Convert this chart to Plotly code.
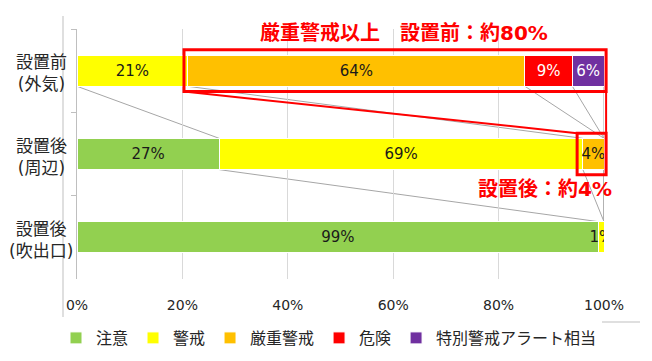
import plotly.graph_objects as go

# ---- data ----
categories = ["設置前(外気)", "設置後(周辺)", "設置後(吹出口)"]
category_labels = ["設置前<br>(外気)", "設置後<br>(周辺)", "設置後<br>(吹出口)"]
series_names = ["注意", "警戒", "厳重警戒", "危険", "特別警戒アラート相当"]
chui = [0, 27, 99]
keikai = [21, 69, 1]
genju = [64, 4, 0]
kiken = [9, 0, 0]
tokubetsu = [6, 0, 0]
x_ticks = [0, 20, 40, 60, 80, 100]
x_tick_labels = ["0%", "20%", "40%", "60%", "80%", "100%"]
callout_top = "厳重警戒以上　設置前：約80%"
callout_bottom = "設置後：約4%"

series_values = [chui, keikai, genju, kiken, tokubetsu]
colors = ["#92D050", "#FFFF00", "#FFC000", "#FF0000", "#7030A0"]
text_colors = ["#1a1a1a", "#1a1a1a", "#1a1a1a", "#FFFFFF", "#FFFFFF"]

FONT = "DejaVu Sans, Noto Sans CJK JP, sans-serif"
BAR_GAP = 0.625
HW = (1 - BAR_GAP) / 2  # half bar thickness in category units

fig = go.Figure()
for name, vals, col, tcol in zip(series_names, series_values, colors, text_colors):
    fig.add_trace(go.Bar(
        y=categories,
        x=[v if v > 0 else None for v in vals],
        name=name,
        orientation="h",
        marker=dict(color=col, line=dict(color="white", width=1)),
        text=[f"{v}%" if v > 0 else "" for v in vals],
        textposition="inside",
        insidetextanchor="middle",
        textangle=0,
        textfont=dict(size=15, color=tcol, family=FONT),
        hoverinfo="skip",
    ))

# cumulative ends per series per category
cum = []
running = [0] * len(categories)
for vals in series_values:
    running = [r + v for r, v in zip(running, vals)]
    cum.append(list(running))

shapes = []
# series lines (gray connectors)
for s in range(len(series_values)):
    for i in range(len(categories) - 1):
        shapes.append(dict(
            type="line", xref="x", yref="y",
            x0=cum[s][i], y0=i + HW, x1=cum[s][i + 1], y1=i + 1 - HW,
            line=dict(color="#a6a6a6", width=1), layer="below",
        ))


def ydom(pos):
    return (len(categories) - 0.5 - pos) / len(categories)


PAD = 0.25
big_x0 = (cum[1][0] - 0.7) / 100
small_x0 = (cum[1][1] - 1.1) / 100
right_x = 1.004
red = "#FF0000"
shapes += [
    dict(type="rect", xref="x domain", yref="y domain",
         x0=big_x0, x1=right_x, y0=ydom(0 - PAD), y1=ydom(0 + PAD),
         line=dict(color=red, width=3)),
    dict(type="rect", xref="x domain", yref="y domain",
         x0=small_x0, x1=right_x, y0=ydom(1 - PAD), y1=ydom(1 + PAD),
         line=dict(color=red, width=3)),
    dict(type="line", xref="x domain", yref="y domain",
         x0=big_x0, y0=ydom(0 + PAD), x1=small_x0, y1=ydom(1 - PAD),
         line=dict(color=red, width=2)),
    dict(type="line", xref="x domain", yref="y domain",
         x0=right_x, y0=ydom(0 + PAD), x1=right_x, y1=ydom(1 - PAD),
         line=dict(color=red, width=2)),
    # outer frame fragments
    dict(type="line", xref="paper", yref="paper",
         x0=(63 - 77) / 527, x1=(63 - 77) / 527, y0=(279 - 16) / 250, y1=(279 - 317) / 250,
         line=dict(color="#bfbfbf", width=1)),
    dict(type="line", xref="paper", yref="paper",
         x0=(602 - 77) / 527, x1=(640 - 77) / 527, y0=(279 - 322) / 250, y1=(279 - 322) / 250,
         line=dict(color="#bfbfbf", width=1)),
]

annotations = []
for i, lab in enumerate(category_labels):
    annotations.append(dict(
        xref="paper", yref="y", x=(41 - 77) / 527, y=i + 0.03,
        text=lab, showarrow=False, xanchor="center", yanchor="middle", align="center",
        font=dict(size=17, color="#262626", family=FONT),
    ))
annotations.append(dict(
    xref="paper", yref="paper", x=(404 - 77) / 527, y=(279 - 33) / 250,
    text=callout_top, showarrow=False, xanchor="center", yanchor="middle",
    font=dict(size=20, color=red, family=FONT, weight="bold"),
))
annotations.append(dict(
    xref="paper", yref="paper", x=(545 - 77) / 527, y=(279 - 189) / 250,
    text=callout_bottom, showarrow=False, xanchor="center", yanchor="middle",
    font=dict(size=20, color=red, family=FONT, weight="bold"),
))

fig.update_layout(
    width=652, height=361, autosize=False,
    barmode="stack", bargap=BAR_GAP,
    plot_bgcolor="white", paper_bgcolor="white",
    margin=dict(l=77, r=48, t=29, b=82, autoexpand=False),
    font=dict(family=FONT, color="#262626"),
    shapes=shapes, annotations=annotations,
    xaxis=dict(
        range=[0, 100], tickmode="array", tickvals=x_ticks, ticktext=x_tick_labels,
        showgrid=True, gridcolor="#d9d9d9", gridwidth=1,
        zeroline=False, showline=False, ticks="",
        tickfont=dict(size=14, color="#262626", family=FONT),
        ticklabelstandoff=16,
    ),
    yaxis=dict(
        type="category", autorange="reversed", tickson="boundaries",
        ticks="outside", ticklen=5, tickcolor="#bfbfbf",
        showline=True, linecolor="#bfbfbf", showgrid=False,
        showticklabels=False, zeroline=False,
    ),
    legend=dict(
        orientation="h", xref="paper", yref="paper",
        x=(56 - 77) / 527, y=(279 - 338) / 250, xanchor="left", yanchor="middle",
        font=dict(size=16, color="#262626", family=FONT),
        traceorder="normal",
    ),
    uniformtext=dict(minsize=15, mode="show"),
    showlegend=True,
)

fig.write_html(
    "out.html",
    config={"displayModeBar": False},
    post_script="document.body.style.margin='0';document.body.style.overflow='hidden';",
)
